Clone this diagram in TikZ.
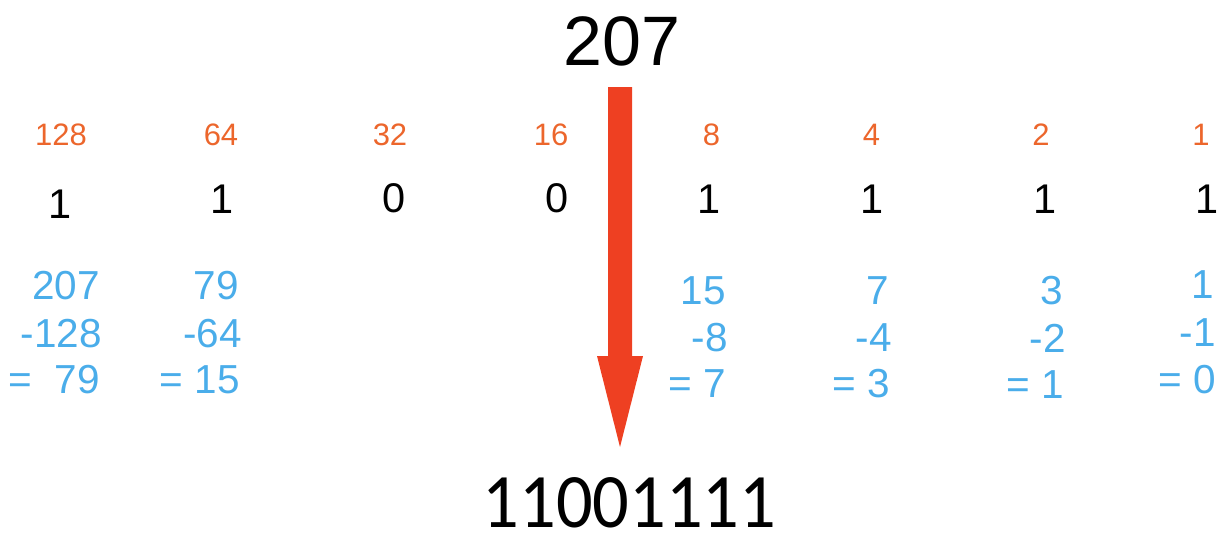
\documentclass[tikz,border=0pt]{standalone}
\usepackage{fontspec}
\setmainfont{Liberation Sans}
\newfontfamily\calibfont{Carlito}
\definecolor{wgt}{RGB}{236,102,44}
\definecolor{calc}{RGB}{74,173,234}
\definecolor{arr}{RGB}{238,64,34}
\tikzset{
  weight/.style={anchor=base, inner sep=0pt, text=wgt, font=\fontsize{31}{31}\selectfont},
  bit/.style={anchor=base, inner sep=0pt, text=black, font=\fontsize{41.5}{41.5}\selectfont},
  calcline/.style={anchor=base east, inner sep=0pt, text=calc, font=\fontsize{40.5}{40.5}\selectfont},
  big/.style={anchor=base, inner sep=0pt, text=black, font=\fontsize{70}{70}\selectfont},
  result/.style={anchor=base, inner sep=0pt, text=black, font=\calibfont\fontsize{77}{77}\selectfont},
  bigarrow/.style={fill=arr, draw=none}
}
\begin{document}
\begin{tikzpicture}[x=1pt,y=-1pt]
\useasboundingbox (0,0) rectangle (1227,547);
\node[big] (dec) at (622,65) {207};
\node[result] (bin) at (629.5,527) {\scalebox{0.94}[1]{11001111}};
% weights
\node[weight] (w128) at (61,145) {128};
\node[weight] (w64) at (221,145) {64};
\node[weight] (w32) at (390,145) {32};
\node[weight] (w16) at (551,145) {16};
\node[weight] (w8) at (711.5,145) {8};
\node[weight] (w4) at (871.5,145) {4};
\node[weight] (w2) at (1041,145) {2};
\node[weight] (w1) at (1201,145) {1};
% bits
\node[bit] (b7) at (60,218) {1};
\node[bit] (b6) at (222,213) {1};
\node[bit] (b5) at (394,212) {0};
\node[bit] (b4) at (557,212) {0};
\node[bit] (b3) at (709,213) {1};
\node[bit] (b2) at (872,213) {1};
\node[bit] (b1) at (1045.5,213) {1};
\node[bit] (b0) at (1207.5,213) {1};
% calculations
\node[calcline] (c7a) at (100,299) {207};
\node[calcline] (c7b) at (102,347) {-128};
\node[calcline] (c7c) at (100,393) {=\ \ 79};
\node[calcline] (c6a) at (239,299) {79};
\node[calcline] (c6b) at (242,347) {-64};
\node[calcline] (c6c) at (240,393) {= 15};
\node[calcline] (c3a) at (726,304) {15};
\node[calcline] (c3b) at (728,351) {-8};
\node[calcline] (c3c) at (726,397) {= 7};
\node[calcline] (c2a) at (889,304) {7};
\node[calcline] (c2b) at (892,351) {-4};
\node[calcline] (c2c) at (890,397) {= 3};
\node[calcline] (c1a) at (1063,304) {3};
\node[calcline] (c1b) at (1066,352) {-2};
\node[calcline] (c1c) at (1064,398) {= 1};
\node[calcline] (c0a) at (1214,298) {1};
\node[calcline] (c0b) at (1216,346) {-1};
\node[calcline] (c0c) at (1216,393) {= 0};
% arrow
\coordinate (atop) at (620,87);
\coordinate (atip) at (620,447);
\fill[bigarrow] ([xshift=-12pt]atop) -- ([xshift=12pt]atop) -- ([xshift=12pt,yshift=91pt]atip)
  -- ([xshift=23pt,yshift=91pt]atip) -- (atip) -- ([xshift=-23pt,yshift=91pt]atip)
  -- ([xshift=-12pt,yshift=91pt]atip) -- cycle;
\end{tikzpicture}
\end{document}
